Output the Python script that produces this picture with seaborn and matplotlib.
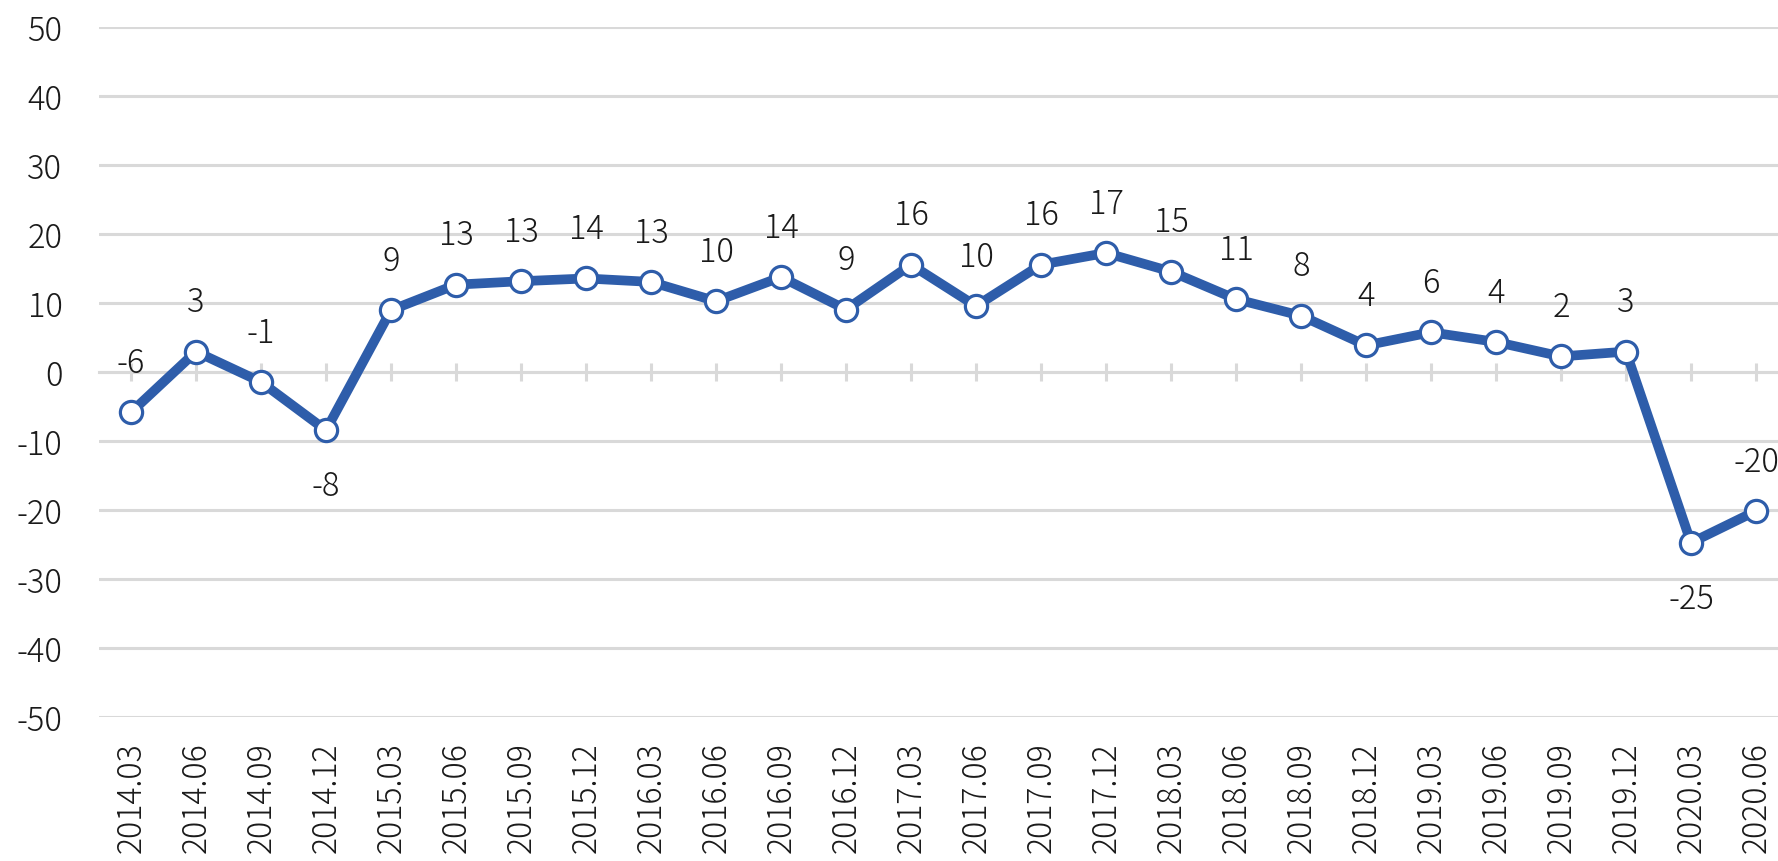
import matplotlib
matplotlib.use("Agg")
import matplotlib.pyplot as plt
import seaborn as sns
import pandas as pd

# quarterly index values
quarters = ['2014.03', '2014.06', '2014.09', '2014.12',
            '2015.03', '2015.06', '2015.09', '2015.12',
            '2016.03', '2016.06', '2016.09', '2016.12',
            '2017.03', '2017.06', '2017.09', '2017.12',
            '2018.03', '2018.06', '2018.09', '2018.12',
            '2019.03', '2019.06', '2019.09', '2019.12',
            '2020.03', '2020.06']
values = [-5.8, 3.0, -1.4, -8.4,
          9.0, 12.7, 13.2, 13.6,
          13.1, 10.3, 13.8, 9.1,
          15.6, 9.6, 15.6, 17.3,
          14.6, 10.6, 8.2, 3.9,
          5.8, 4.4, 2.3, 3.0,
          -24.7, -20.1]
labels_below = ['2014.12', '2020.03']
y_ticks = list(range(-50, 51, 10))

df = pd.DataFrame({'pos': range(len(quarters)), 'quarter': quarters, 'value': values})

blue = '#2E5DAA'
grid_grey = '#D9D9D9'
text_col = '#1A1A1A'

sns.set_theme(style='white')
plt.rcParams['font.family'] = ['Noto Sans CJK JP', 'DejaVu Sans']

fig = plt.figure(figsize=(17.78, 8.61), dpi=100)
ax = fig.add_axes([98.5 / 1778, 1 - 717.3 / 861, 1690 / 1778, 690 / 861])

for yv in y_ticks:
    ax.axhline(yv, color=grid_grey, linewidth=2.2, zorder=0)

sns.lineplot(data=df, x='pos', y='value', ax=ax, color=blue, linewidth=7,
             marker='o', markersize=16, markerfacecolor='white',
             markeredgecolor=blue, markeredgewidth=2.3, zorder=3)

for _, row in df.iterrows():
    below = row['quarter'] in labels_below
    ax.annotate(f"{round(row['value']):.0f}", (row['pos'], row['value']),
                xytext=(0, -41 if below else 35), textcoords='offset points',
                ha='center', va='center', fontsize=23.5, color=text_col,
                fontweight='light', annotation_clip=False)

ax.set_xlim(-0.5, len(quarters) - 0.5)
ax.set_ylim(-50, 50)
ax.set_yticks(y_ticks)
ax.set_yticklabels([str(t) for t in y_ticks], fontsize=23.5, color=text_col,
                   fontweight='light')
ax.set_xticks(df['pos'])
ax.set_xticklabels(quarters, rotation=90, fontsize=23, color=text_col,
                   fontweight='light')
ax.tick_params(axis='y', length=0, pad=26)
ax.tick_params(axis='x', length=0, pad=18)
ax.set_xlabel('')
ax.set_ylabel('')
for sp in ax.spines.values():
    sp.set_visible(False)

# category axis crossing at zero with cross tick marks
sec = ax.secondary_xaxis(0.5)
sec.set_xticks(df['pos'])
sec.set_xticklabels([])
sec.tick_params(direction='inout', length=13, width=2.2, color=grid_grey)
for sp in sec.spines.values():
    sp.set_color(grid_grey)
    sp.set_linewidth(2.2)

fig.savefig('out.png', dpi=100)
